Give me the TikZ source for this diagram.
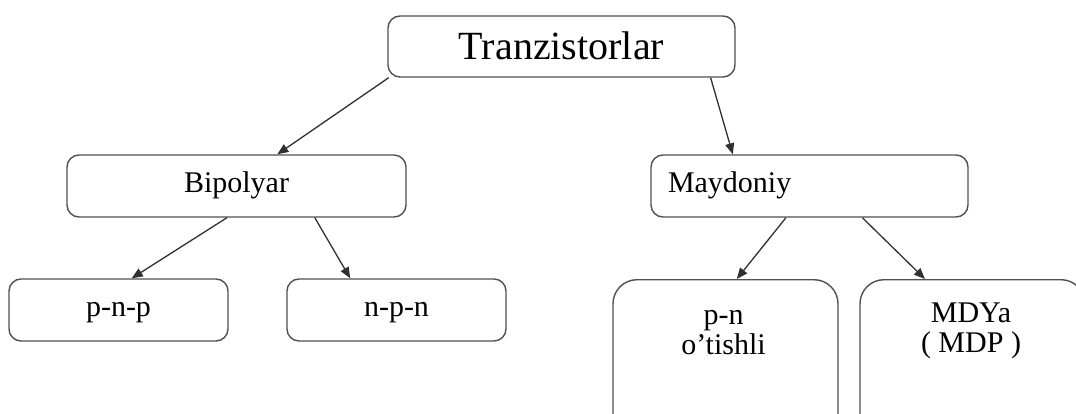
\documentclass[tikz,border=0pt]{standalone}
\usepackage{xcolor}
\usepackage{fontspec}
\setmainfont{Liberation Serif}
\usepackage{tikz}
\usetikzlibrary{calc,arrows.meta}

\definecolor{boxgray}{HTML}{505050}
\definecolor{linegray}{HTML}{303030}

\tikzset{
    box/.style={draw=boxgray, line width=1.4pt, rounded corners=12pt, inner sep=0pt,
        minimum height=62pt, text height=20pt, text depth=6.5pt,
        font=\fontsize{30}{30}\selectfont},
    tallbox/.style={draw=boxgray, line width=1.4pt, rounded corners=24pt,
        minimum width=225pt, minimum height=175pt, anchor=north},
    boxtext/.style={inner sep=0pt, align=center, font=\fontsize{30}{30}\selectfont},
    link/.style={draw=linegray, line width=1.3pt, -{Triangle[length=11pt,width=9pt]}}
}

\begin{document}
\begin{tikzpicture}[x=1pt,y=-1pt]
    \useasboundingbox (0,0) rectangle (1076,414);
    \clip (0,0) rectangle (1076,414);

    \node[box, minimum width=347pt, minimum height=61pt, text height=27pt, text depth=0pt,
        font=\fontsize{40}{40}\selectfont] (tr) at (561.5,46.5) {Tranzistorlar};

    \node[box, minimum width=339pt] (bip) at (236.5,186) {Bipolyar};
    \node[box, text width=283pt, inner xsep=17pt, align=left] (may) at (809.5,186) {Maydoniy};

    \node[box, minimum width=219pt] (pnp) at (118.5,310) {p-n-p};
    \node[box, minimum width=219pt] (npn) at (396.5,310) {n-p-n};

    % tall boxes run past the bottom edge
    \node[tallbox] (pn) at (725.5,279) {};
    \node[boxtext] (pntext) at (723.5,332.8) {p-n\\o’tishli};
    \node[tallbox] (mdp) at (972.5,279) {};
    \node[boxtext] (mdptext) at (971,331.3) {MDYa\\( MDP )};

    \draw[link] ($(tr.south west)!0.004!(tr.south east)$) -- ($(bip.north west)!0.62!(bip.north east)$);
    \draw[link] ($(tr.south west)!0.928!(tr.south east)$) -- ($(may.north west)!0.259!(may.north east)$);

    \draw[link] ($(bip.south west)!0.472!(bip.south east)$) -- ($(pnp.north west)!0.56!(pnp.north east)$);
    \draw[link] ($(bip.south west)!0.73!(bip.south east)$) -- ($(npn.north west)!0.29!(npn.north east)$);

    \draw[link] ($(may.south west)!0.426!(may.south east)$) -- ($(pn.north west)!0.55!(pn.north east)$);
    \draw[link] ($(may.south west)!0.666!(may.south east)$) -- ($(mdp.north west)!0.29!(mdp.north east)$);
\end{tikzpicture}
\end{document}
